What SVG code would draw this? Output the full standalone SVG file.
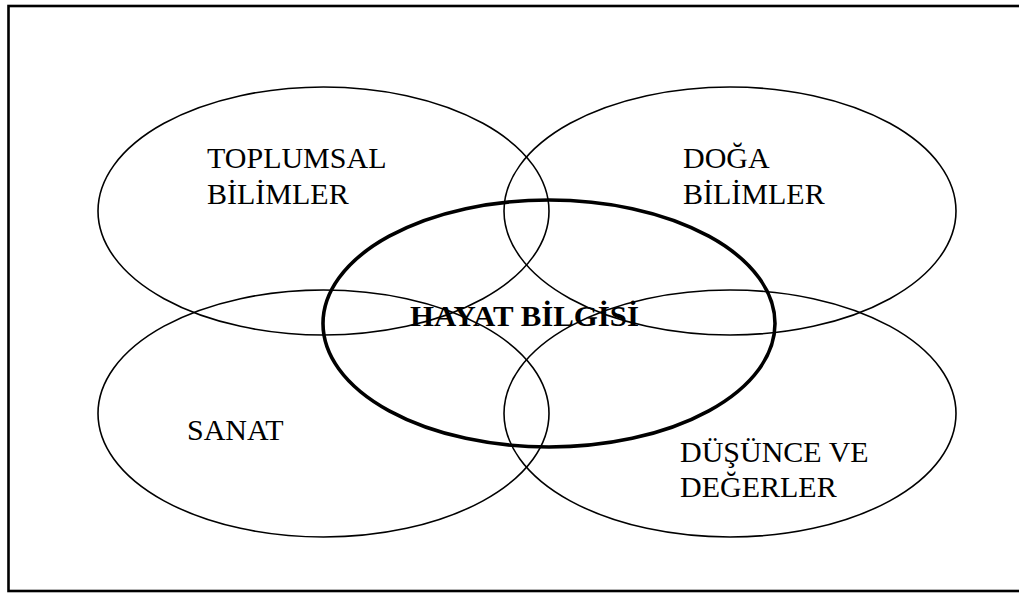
<svg xmlns="http://www.w3.org/2000/svg" width="1019" height="593" viewBox="0 0 1019 593">
<style>
.set{fill:none;stroke:#000;stroke-width:1.6}
.main{fill:none;stroke:#000;stroke-width:3.6}
.lbl{font-family:"Liberation Serif","Times New Roman",serif;font-size:30px;fill:#000}
.bold{font-weight:bold}
</style>
<rect x="0" y="0" width="1019" height="593" fill="#fff"/>
<rect id="frame" x="8.5" y="6" width="1030" height="585" fill="none" stroke="#000" stroke-width="2.6"/>
<g id="toplumsal">
<ellipse class="set" cx="323.5" cy="211" rx="225.5" ry="124"/>
<text class="lbl" x="207" y="168">TOPLUMSAL</text>
<text class="lbl" x="207" y="204">BİLİMLER</text>
</g>
<g id="doga">
<ellipse class="set" cx="730" cy="211" rx="226" ry="124"/>
<text class="lbl" x="683" y="168">DOĞA</text>
<text class="lbl" x="683" y="204">BİLİMLER</text>
</g>
<g id="sanat">
<ellipse class="set" cx="323.5" cy="413.5" rx="225.5" ry="123.5"/>
<text class="lbl" x="187" y="440">SANAT</text>
</g>
<g id="dusunce">
<ellipse class="set" cx="730" cy="413.5" rx="226" ry="123.5"/>
<text class="lbl" x="680" y="462">DÜŞÜNCE VE</text>
<text class="lbl" x="680" y="497">DEĞERLER</text>
</g>
<g id="hayat">
<ellipse class="main" cx="549" cy="323.5" rx="226" ry="123.5"/>
<text class="lbl bold" x="410" y="326" textLength="229" lengthAdjust="spacingAndGlyphs">HAYAT BİLGİSİ</text>
</g>
<g id="connectors"></g>
</svg>
